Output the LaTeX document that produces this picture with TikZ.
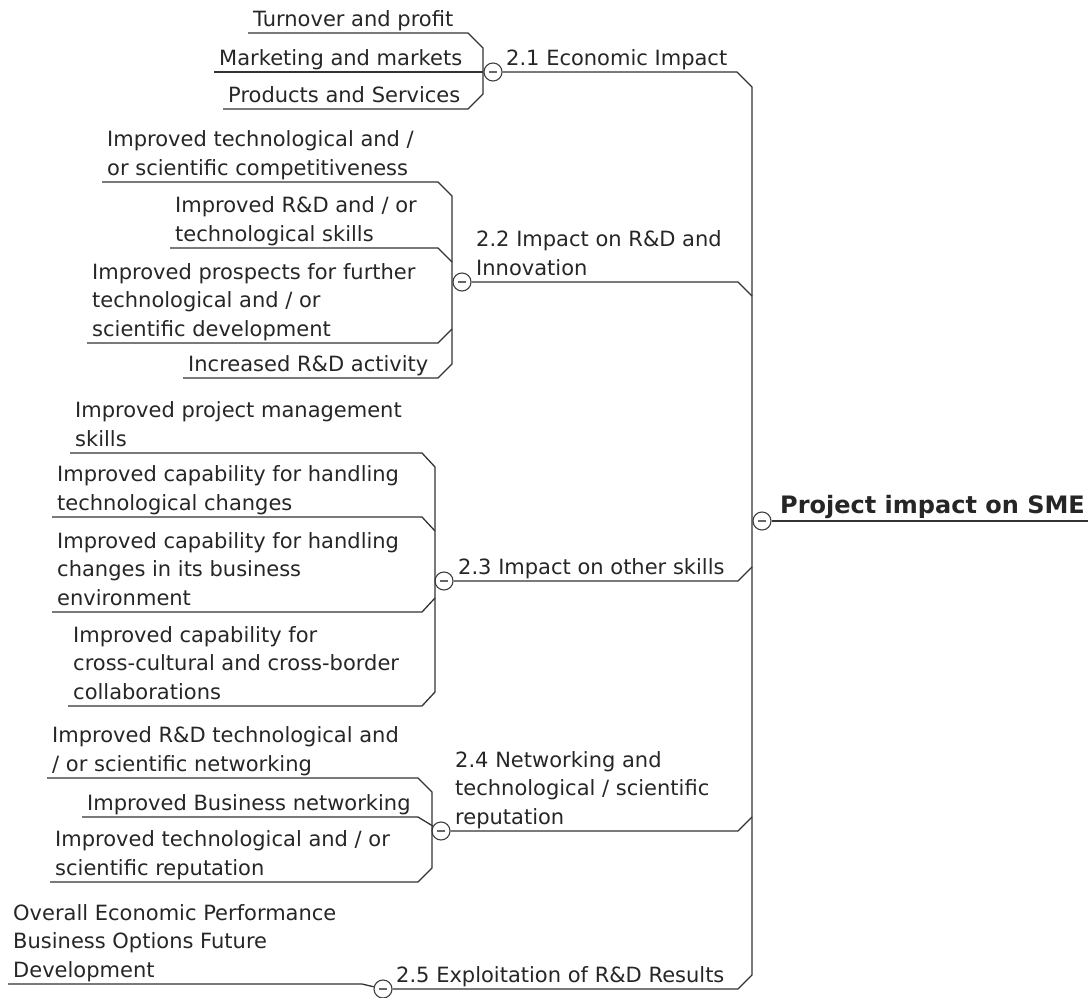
\documentclass[tikz,border=0pt]{standalone}
\usepackage{fontspec}
\setmainfont{DejaVu Sans}
\begin{document}
\begin{tikzpicture}[x=1pt,y=-1pt,
  txt/.style={font=\fontsize{21}{28.5}\selectfont, text=black!85, align=left,
    inner xsep=5pt, inner ysep=6.5pt, text depth=0pt, anchor=south west},
  ul/.style={draw=black!80, line width=1.3pt, line join=miter},
  knob/.style={circle, draw=black!75, fill=white, line width=1.1pt, minimum size=18pt, inner sep=0pt},
  minus/.style={draw=black!60, line width=1.4pt}]
\useasboundingbox (0,0) rectangle (1088,998);

% collapse knobs
\node[knob] (c0) at (762,521) {};
\node[knob] (c21) at (493,72) {};
\node[knob] (c22) at (462,282) {};
\node[knob] (c23) at (444,581) {};
\node[knob] (c24) at (441,831) {};
\node[knob] (c25) at (383,989) {};

% central topic
\node[txt, font=\fontsize{24}{28}\selectfont\bfseries, inner ysep=7pt] (main) at (775,521) {Project impact on SME};
\coordinate (mainend) at (1088,521);
\draw[ul] (c0) -- (mainend);

% main topics
\node[txt] (t21) at (501,72) {2.1 Economic Impact};
\node[txt] (t22) at (471,282) {2.2 Impact on R\&D and\\Innovation};
\node[txt] (t23) at (453,581) {2.3 Impact on other skills};
\node[txt] (t24) at (450,831) {2.4 Networking and\\technological / scientific\\reputation};
\node[txt] (t25) at (391,989) {2.5 Exploitation of R\&D Results};

\draw[ul] (c21) -- (737,72) -- (752,87) -- (752,975) -- (738,989) -- (c25);
\draw[ul] (c22) -- (738,282) -- (752,296);
\draw[ul] (c23) -- (738,581) -- (752,567);
\draw[ul] (c24) -- (738,831) -- (752,817);

% 2.1 subtopics
\node[txt] (n11) at (248,33) {Turnover and profit};
\node[txt] (n12) at (214,72) {Marketing and markets};
\node[txt] (n13) at (223,109) {Products and Services};
\draw[ul] (n11.south west) -- (468,33) -- (483,48) -- (483,94) -- (468,109) -- (n13.south west);
\draw[ul] (n12.south west) -- (c21);

% 2.2 subtopics
\node[txt] (n21) at (102,182) {Improved technological and /\\or scientific competitiveness};
\node[txt] (n22) at (170,248) {Improved R\&D and / or\\technological skills};
\node[txt] (n23) at (87,343) {Improved prospects for further\\technological and / or\\scientific development};
\node[txt] (n24) at (183,378) {Increased R\&D activity};
\draw[ul] (n21.south west) -- (438,182) -- (452,196) -- (452,364) -- (438,378) -- (n24.south west);
\draw[ul] (n22.south west) -- (438,248) -- (452,262);
\draw[ul] (n23.south west) -- (438,343) -- (452,329);

% 2.3 subtopics
\node[txt] (n31) at (70,453) {Improved project management\\skills};
\node[txt] (n32) at (52,517) {Improved capability for handling\\technological changes};
\node[txt] (n33) at (52,612) {Improved capability for handling\\changes in its business\\environment};
\node[txt] (n34) at (68,706) {Improved capability for\\cross-cultural and cross-border\\collaborations};
\draw[ul] (n31.south west) -- (422,453) -- (435,467) -- (435,692) -- (422,706) -- (n34.south west);
\draw[ul] (n32.south west) -- (422,517) -- (435,531);
\draw[ul] (n33.south west) -- (422,612) -- (435,598);

% 2.4 subtopics
\node[txt] (n41) at (47,778) {Improved R\&D technological and\\/ or scientific networking};
\node[txt] (n42) at (82,817) {Improved Business networking};
\node[txt] (n43) at (50,882) {Improved technological and / or\\scientific reputation};
\draw[ul] (n41.south west) -- (418,778) -- (432,792) -- (432,868) -- (418,882) -- (n43.south west);
\draw[ul] (n42.south west) -- (418,817) -- (c24);

% 2.5 subtopic
\node[txt] (n51) at (8,984) {Overall Economic Performance\\Business Options Future\\Development};
\draw[ul] (n51.south west) -- (362,984) -- (c25);

% minus signs
\foreach \c in {c0,c21,c22,c23,c24,c25}
  \draw[minus] ([xshift=-4pt]\c.center) -- ([xshift=4pt]\c.center);
\end{tikzpicture}
\end{document}
